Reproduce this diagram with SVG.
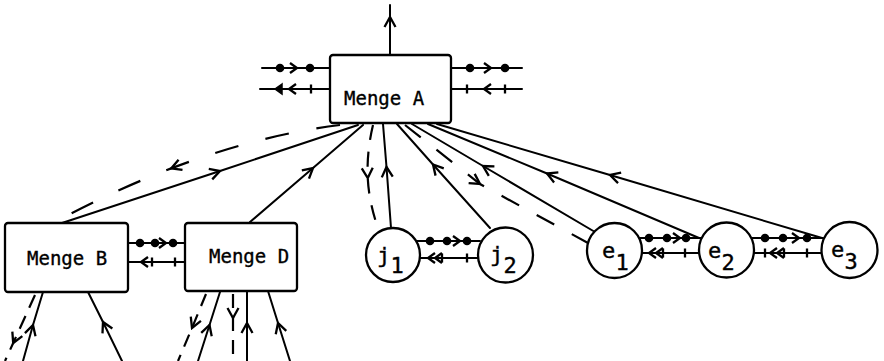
<svg xmlns="http://www.w3.org/2000/svg" xmlns:xlink="http://www.w3.org/1999/xlink" width="884" height="361" viewBox="0 0 884 361">
<style>
.ln{fill:none;stroke:#000;stroke-width:2;stroke-linecap:round}
.ds{fill:none;stroke:#000;stroke-width:2.2;stroke-dasharray:16 10}
.box{fill:#fff;stroke:#000;stroke-width:2.3}
.t{font-family:"DejaVu Sans Mono","Liberation Mono",monospace;font-size:19px;fill:#000;stroke:#000;stroke-width:0.35}
.n{font-family:"DejaVu Sans Mono","Liberation Mono",monospace;font-size:22px;fill:#000;stroke:#000;stroke-width:0.4}
.dot{fill:#000}
.hd{fill:none;stroke:#000;stroke-width:2.3;stroke-linejoin:miter}
.tk{stroke:#000;stroke-width:2.3}
</style>
<defs>
<marker id="a" viewBox="-12 -8 14 16" markerWidth="14" markerHeight="16" refX="0" refY="0" orient="auto" markerUnits="userSpaceOnUse">
<path d="M-10,-5.5 L0,0 L-10,5.5" fill="none" stroke="#000" stroke-width="2.3"/>
</marker>
<circle id="dot" r="4.3" class="dot"/>
<path id="fw" d="M-7,-5 L0,0 L-7,5" class="hd"/>
<path id="bw" d="M7,-5 L0,0 L7,5" class="hd"/>
<path id="bwf" d="M7,-5 L0,0 L7,5 Z" fill="#000" stroke="#000" stroke-width="1.5"/>
<path id="tk" d="M0,-4.5 V4.5" class="tk"/>
</defs>
<g id="connectors">
<path class="ln" d="M390,55 L390,17 L390,5" marker-mid="url(#a)"/>
<path class="ln" d="M62,223 L220,171 L358,125" marker-mid="url(#a)"/>
<path class="ds" style="stroke-dasharray:24 28" d="M340,125 Q258.1,135.2 171.2,168.4 Q113.2,190.6 53,223" marker-mid="url(#a)"/>
<path class="ln" d="M250,222 L313,168 L363,125" marker-mid="url(#a)"/>
<path class="ds" style="stroke-dasharray:15 12" d="M373,125 Q366.5,152.5 367.75,178 Q369,203.5 379,231" marker-mid="url(#a)"/>
<path class="ln" d="M391,228 L386.5,167 L383,124" marker-mid="url(#a)"/>
<path class="ln" d="M490,228 L433,164.5 L397,124" marker-mid="url(#a)"/>
<path class="ds" style="stroke-dasharray:20 20" d="M405,125 L480,184 L588,243" marker-mid="url(#a)"/>
<path class="ln" d="M595,232 L483,166 L412,124" marker-mid="url(#a)"/>
<path class="ln" d="M699,238 L547,173.5 L428,124" marker-mid="url(#a)"/>
<path class="ln" d="M822,238 L610,175 L437,124" marker-mid="url(#a)"/>
<path class="ln" d="M23,361 L33,325 L43,292" marker-mid="url(#a)"/>
<path class="ds" style="stroke-dasharray:14 9" d="M35,295 L13.2,343 L5,361" marker-mid="url(#a)"/>
<path class="ln" d="M122,361 L103,322 L88,292" marker-mid="url(#a)"/>
<path class="ds" style="stroke-dasharray:13 9" d="M206,294 L192,328 L178,361" marker-mid="url(#a)"/>
<path class="ln" d="M198,361 L209.5,325 L220,292" marker-mid="url(#a)"/>
<path class="ds" style="stroke-dasharray:14 9" d="M233,294 L233,318 L233,361" marker-mid="url(#a)"/>
<path class="ln" d="M247,361 L247,323 L247,291" marker-mid="url(#a)"/>
<path class="ln" d="M290,361 L278,323 L268,291" marker-mid="url(#a)"/>
<g id="flowA-left">
<path class="ln" d="M262,68 H330 M260,89 H330"/>
<use xlink:href="#dot" x="280" y="68"/><use xlink:href="#fw" x="297" y="68"/><use xlink:href="#dot" x="310" y="68"/>
<use xlink:href="#bwf" x="275" y="89"/><use xlink:href="#bw" x="289" y="89"/><use xlink:href="#tk" x="311" y="89"/>
</g>
<g id="flowA-right">
<path class="ln" d="M451,68 H522 M451,89 H522"/>
<use xlink:href="#dot" x="470" y="68"/><use xlink:href="#fw" x="491" y="68"/><use xlink:href="#dot" x="505" y="68"/>
<use xlink:href="#tk" x="467" y="89"/><use xlink:href="#bw" x="484" y="89"/><use xlink:href="#tk" x="505" y="89"/>
</g>
<g id="flowBD">
<path class="ln" d="M128,243 H185 M128,262 H185"/>
<use xlink:href="#dot" x="140" y="243"/><use xlink:href="#dot" x="155" y="243"/><use xlink:href="#fw" x="166" y="243"/><use xlink:href="#dot" x="173" y="243"/>
<use xlink:href="#bw" x="141" y="262"/><use xlink:href="#tk" x="152" y="262"/><use xlink:href="#tk" x="175" y="262"/>
</g>
<g id="flowJ">
<path class="ln" d="M416,241 H480 M418,258 H480"/>
<use xlink:href="#dot" x="430" y="241"/><use xlink:href="#dot" x="447" y="241"/><use xlink:href="#fw" x="460" y="241"/><use xlink:href="#dot" x="467" y="241"/>
<use xlink:href="#bw" x="428" y="258"/><use xlink:href="#bw" x="435" y="258"/><use xlink:href="#tk" x="442" y="258"/><use xlink:href="#tk" x="467" y="258"/>
</g>
<g id="flowE12">
<path class="ln" d="M640,238 H701 M641,253 H700"/>
<use xlink:href="#dot" x="649" y="238"/><use xlink:href="#dot" x="667" y="238"/><use xlink:href="#fw" x="680" y="238"/><use xlink:href="#dot" x="686" y="238"/>
<use xlink:href="#bw" x="649" y="253"/><use xlink:href="#bw" x="656" y="253"/><use xlink:href="#tk" x="663" y="253"/><use xlink:href="#tk" x="685" y="253"/>
</g>
<g id="flowE23">
<path class="ln" d="M752,238 H823 M753,253 H822"/>
<use xlink:href="#dot" x="765" y="238"/><use xlink:href="#dot" x="783" y="238"/><use xlink:href="#fw" x="799" y="238"/><use xlink:href="#dot" x="807" y="238"/>
<use xlink:href="#tk" x="765" y="253"/><use xlink:href="#bw" x="770" y="253"/><use xlink:href="#bw" x="777" y="253"/><use xlink:href="#tk" x="784" y="253"/><use xlink:href="#tk" x="807" y="253"/>
</g>
</g>
<g id="mengeA"><rect class="box" x="330" y="55" width="121" height="68" rx="3"/><text class="t" x="344" y="105">Menge A</text></g>
<g id="mengeB"><rect class="box" x="5" y="223" width="123" height="69" rx="3"/><text class="t" x="27" y="265">Menge B</text></g>
<g id="mengeD"><rect class="box" x="185" y="223" width="112" height="68" rx="3"/><text class="t" x="209" y="263">Menge D</text></g>
<g id="j1"><circle class="box" cx="393" cy="255" r="27"/><text class="n" x="377" y="263">j<tspan x="390.5" y="273">1</tspan></text></g>
<g id="j2"><circle class="box" cx="505.5" cy="255" r="27.5"/><text class="n" x="490" y="262">j<tspan x="503.5" y="273">2</tspan></text></g>
<g id="e1"><circle class="box" cx="614.5" cy="250.5" r="27.5"/><text class="n" x="602" y="258">e<tspan x="615.5" y="270">1</tspan></text></g>
<g id="e2"><circle class="box" cx="726.5" cy="250" r="27.5"/><text class="n" x="708" y="258">e<tspan x="721.5" y="270">2</tspan></text></g>
<g id="e3"><circle class="box" cx="849.5" cy="250" r="28"/><text class="n" x="831" y="257">e<tspan x="844.5" y="269">3</tspan></text></g>
</svg>
